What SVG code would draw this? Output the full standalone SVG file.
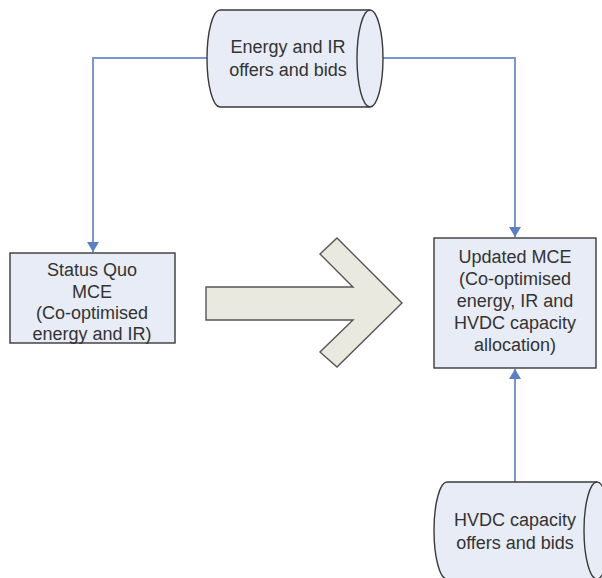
<svg xmlns="http://www.w3.org/2000/svg" width="602" height="578" viewBox="0 0 602 578">
<defs>
<style>
.shape{fill:#e8ecf6;stroke:#3a3a3a;stroke-width:1.4}
.inner{fill:none;stroke:#3a3a3a;stroke-width:1.4}
.conn{fill:none;stroke:#7b96cc;stroke-width:2}
.big{fill:#e9e9e0;stroke:#555;stroke-width:1.4}
text{font-family:"Liberation Sans",Arial,sans-serif;font-size:18px;fill:#333;text-anchor:middle}
</style>
<marker id="ah" viewBox="0 0 10 12" refX="10" refY="6" markerWidth="10" markerHeight="12" markerUnits="userSpaceOnUse" orient="auto">
<path d="M0,0 L10,6 L0,12 Z" fill="#5b7fc0"/>
</marker>
</defs>
<rect width="602" height="578" fill="#fff"/>
<g id="connectors">
<path class="conn" d="M207,58 L93,58 L93,252" marker-end="url(#ah)"/>
<path class="conn" d="M383,58 L515,58 L515,237" marker-end="url(#ah)"/>
<path class="conn" d="M515,482 L515,369" marker-end="url(#ah)"/>
</g>
<g id="energy-ir-offers">
<path class="shape" d="M220,10 L370,10 A13,48.5 0 0 1 370,107 L220,107 A13,48.5 0 0 1 220,10 Z"/>
<path class="inner" d="M370,10 A13,48.5 0 0 0 370,107"/>
<text x="288" y="53">Energy and IR</text>
<text x="288" y="76">offers and bids</text>
</g>
<g id="status-quo-mce">
<rect class="shape" x="10" y="253" width="165" height="90"/>
<text x="92" y="276">Status Quo</text>
<text x="92" y="298">MCE</text>
<text x="92" y="319">(Co-optimised</text>
<text x="92" y="340">energy and IR)</text>
</g>
<g id="transition-arrow">
<path class="big" d="M206,287 L353,287 L320,254 L337,238 L402,303 L337,367 L320,352 L353,320 L206,320 Z"/>
</g>
<g id="updated-mce">
<rect class="shape" x="434" y="238" width="162" height="130"/>
<text x="515" y="263">Updated MCE</text>
<text x="515" y="285">(Co-optimised</text>
<text x="515" y="307">energy, IR and</text>
<text x="515" y="329">HVDC capacity</text>
<text x="515" y="351">allocation)</text>
</g>
<g id="hvdc-offers">
<path class="shape" d="M447,482 L597,482 A13,48.5 0 0 1 597,579 L447,579 A13,48.5 0 0 1 447,482 Z"/>
<path class="inner" d="M597,482 A13,48.5 0 0 0 597,579"/>
<text x="515" y="526">HVDC capacity</text>
<text x="515" y="549">offers and bids</text>
</g>
</svg>
